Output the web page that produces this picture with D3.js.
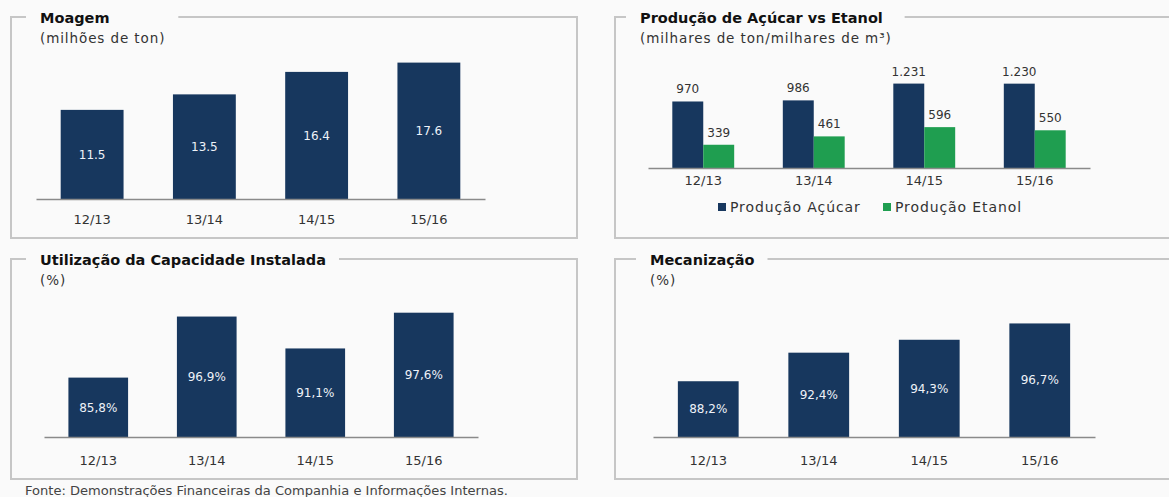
<!DOCTYPE html>
<html>
<head>
<meta charset="utf-8">
<script src="https://cdn.jsdelivr.net/npm/d3@7.9.0/dist/d3.min.js"></script>
<style>
  body { margin: 0; background: #fafafa; }
  svg { display: block; font-family: "DejaVu Sans", sans-serif; }
</style>
</head>
<body>
<svg id="chart" width="1169" height="497"></svg>
<script>
// data
const seasons = ["12/13", "13/14", "14/15", "15/16"];
const moagem = [11.5, 13.5, 16.4, 17.6];
const acucar = [970, 986, 1231, 1230];
const etanol = [339, 461, 596, 550];
const capacidade = [85.8, 96.9, 91.1, 97.6];
const mecanizacao = [88.2, 92.4, 94.3, 96.7];
const seriesNames = ["Produção Açúcar", "Produção Etanol"];

const NAVY = "#17375e";
const GREEN = "#1f9e50";
const BORDER = "#c6c6c6";

const br = d3.formatLocale({ decimal: ",", thousands: ".", grouping: [3], currency: ["R$", ""] });
const fmtInt = br.format(",d");
const fmtPct = v => br.format(".1f")(v) + "%";

const svg = d3.select("#chart");

// panel frame with the title sitting in a gap of the top border
function frame(p) {
    const g = svg.append("g");
    const t = g.append("text")
        .attr("x", p.tx).attr("y", p.y0 + 6)
        .style("font-size", "14.5px").style("font-weight", "bold")
        .attr("fill", "#111")
        .text(p.title);
    const s = g.append("text")
        .attr("x", p.tx).attr("y", p.y0 + 26)
        .style("font-size", "13.5px")
        .style("letter-spacing", "0.9px")
        .attr("fill", "#333")
        .text(p.sub);
    const w = Math.max(t.node().getComputedTextLength(), s.node().getComputedTextLength());
    g.insert("path", "text")
        .attr("fill", "none")
        .attr("stroke", BORDER)
        .attr("stroke-width", 2)
        .attr("d", `M${p.tx - 14},${p.y0}H${p.x0}V${p.y1}H${p.x1}V${p.y0}H${p.tx + w + 13}`);
}

function axis(g, x, y0, pad) {
    const ax = g.append("g")
        .attr("transform", `translate(0,${y0})`)
        .call(d3.axisBottom(x).tickSize(0).tickPadding(pad));
    ax.select(".domain").attr("stroke", "#8a8a8a").attr("stroke-width", 1.5);
    ax.selectAll("text")
        .style("font-size", "13px")
        .style("font-family", "DejaVu Sans, sans-serif")
        .attr("fill", "#333");
}

// simple bar panel with labels inside the bars
function barPanel(values, xRange, yDomain, yRange, fmt, pad, pi) {
    const g = svg.append("g");
    const x = d3.scaleBand().domain(seasons).range(xRange)
        .paddingInner(pi).paddingOuter(pi / 2);
    const y = d3.scaleLinear().domain(yDomain).range(yRange);

    g.selectAll("rect")
        .data(values)
        .enter().append("rect")
        .attr("x", (d, i) => x(seasons[i]))
        .attr("y", d => y(d))
        .attr("width", x.bandwidth())
        .attr("height", d => y(yDomain[0]) - y(d))
        .attr("fill", NAVY);

    g.selectAll(".val")
        .data(values)
        .enter().append("text")
        .attr("class", "val")
        .attr("x", (d, i) => x(seasons[i]) + x.bandwidth() / 2)
        .attr("y", d => (y(d) + y(yDomain[0])) / 2)
        .attr("dy", "0.35em")
        .attr("text-anchor", "middle")
        .style("font-size", "12px")
        .attr("fill", "#eef2f8")
        .text(fmt);

    axis(g, x, yRange[0], pad);
}

// frames
frame({ x0: 11, x1: 577, y0: 17, y1: 238, tx: 40, title: "Moagem", sub: "(milhões de ton)" });
frame({ x0: 615, x1: 1180, y0: 17, y1: 238, tx: 640, title: "Produção de Açúcar vs Etanol", sub: "(milhares de ton/milhares de m³)" });
frame({ x0: 11, x1: 577, y0: 259, y1: 479, tx: 40, title: "Utilização da Capacidade Instalada", sub: "(%)" });
frame({ x0: 615, x1: 1180, y0: 259, y1: 479, tx: 650, title: "Mecanização", sub: "(%)" });

// Moagem
barPanel(moagem, [36, 485], [0, 20], [199, 44], d => d.toFixed(1), 16, 0.44);
// Utilização da capacidade
barPanel(capacidade, [44, 478], [75, 100], [437, 299.5], fmtPct, 19, 0.45);
// Mecanização
barPanel(mecanizacao, [653, 1095], [80, 100], [437, 301], fmtPct, 19, 0.45);

// Açúcar vs Etanol grouped bars
{
    const g = svg.append("g");
    const x = d3.scaleBand().domain(seasons).range([648, 1090]).paddingInner(0.44).paddingOuter(0.22);
    const xs = d3.scaleBand().domain(seriesNames).range([0, x.bandwidth()]);
    const y = d3.scaleLinear().domain([0, 1400]).range([168, 72]);
    const color = d3.scaleOrdinal().domain(seriesNames).range([NAVY, GREEN]);
    const rows = seasons.map((s, i) => ({ season: s, vals: [acucar[i], etanol[i]] }));

    const grp = g.selectAll(".grp")
        .data(rows)
        .enter().append("g")
        .attr("transform", d => `translate(${x(d.season)},0)`);

    grp.selectAll("rect")
        .data(d => d.vals.map((v, k) => ({ key: seriesNames[k], v })))
        .enter().append("rect")
        .attr("x", d => xs(d.key))
        .attr("y", d => y(d.v))
        .attr("width", xs.bandwidth())
        .attr("height", d => y(0) - y(d.v))
        .attr("fill", d => color(d.key));

    grp.selectAll("text")
        .data(d => d.vals.map((v, k) => ({ key: seriesNames[k], v })))
        .enter().append("text")
        .attr("x", d => xs(d.key) + xs.bandwidth() / 2)
        .attr("y", d => y(d.v) - 8)
        .attr("text-anchor", "middle")
        .style("font-size", "12px")
        .attr("fill", "#333")
        .text(d => fmtInt(d.v));

    axis(g, x, 168, 8);

    // legend
    const lx = [718, 883];
    const leg = g.selectAll(".leg")
        .data(seriesNames)
        .enter().append("g")
        .attr("transform", (d, i) => `translate(${lx[i]},207)`);
    leg.append("rect")
        .attr("x", 0).attr("y", -4)
        .attr("width", 8).attr("height", 8)
        .attr("fill", d => color(d));
    leg.append("text")
        .attr("x", 12).attr("dy", "0.35em")
        .style("font-size", "14px")
        .style("letter-spacing", "0.9px")
        .attr("fill", "#333")
        .text(d => d);
}

// source note
svg.append("text")
    .attr("x", 25).attr("y", 495)
    .attr("textLength", 483).attr("lengthAdjust", "spacingAndGlyphs")
    .style("font-size", "12px")
    .attr("fill", "#444")
    .text("Fonte: Demonstrações Financeiras da Companhia e Informações Internas.");
</script>
</body>
</html>
